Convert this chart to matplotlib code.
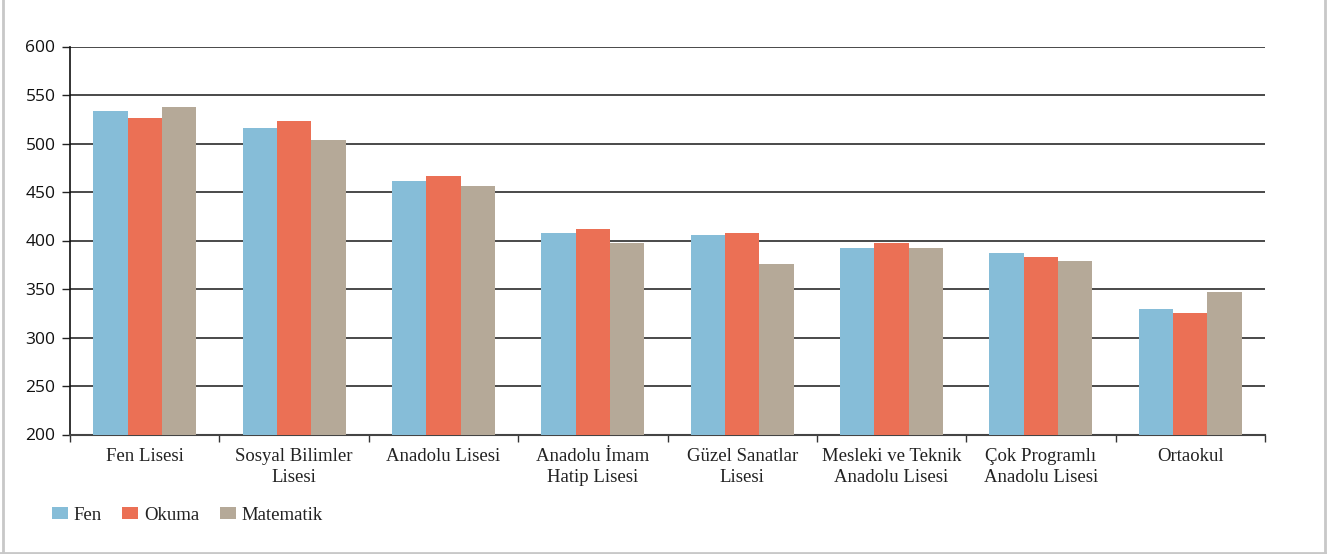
import matplotlib
matplotlib.use("Agg")
import matplotlib.pyplot as plt
import numpy as np
from matplotlib.lines import Line2D

categories = [
    "Fen Lisesi",
    "Sosyal Bilimler\nLisesi",
    "Anadolu Lisesi",
    "Anadolu İmam\nHatip Lisesi",
    "Güzel Sanatlar\nLisesi",
    "Mesleki ve Teknik\nAnadolu Lisesi",
    "Çok Programlı\nAnadolu Lisesi",
    "Ortaokul",
]
fen = [534, 516, 461, 408, 406, 392, 387, 329]
okuma = [526, 523, 466, 412, 408, 397, 383, 325]
matematik = [538, 504, 456, 397, 376, 392, 379, 347]
series_names = ["Fen", "Okuma", "Matematik"]
y_ticks = [200, 250, 300, 350, 400, 450, 500, 550, 600]

colors = ["#86BDD8", "#EB7055", "#B5A998"]

W, H = 1327, 554
fig = plt.figure(figsize=(W / 100, H / 100), dpi=100)
ax = fig.add_axes([70 / W, 1 - 434.5 / H, 1195 / W, 388 / H])

x = np.arange(len(categories))
bw = 0.23
for i, (vals, name, c) in enumerate(zip([fen, okuma, matematik], series_names, colors)):
    ax.bar(x + (i - 1) * bw, vals, width=bw, color=c, label=name, zorder=3, linewidth=0)

ax.set_ylim(200, 600)
ax.set_xlim(-0.5, len(categories) - 0.5)
ax.set_yticks(y_ticks)
ax.yaxis.grid(True, color="#2a2a2a", linewidth=1.2, zorder=0)
ax.set_axisbelow(True)

# group separators as major ticks, category names on minor ticks
ax.set_xticks(np.arange(-0.5, len(categories)), labels=[""] * (len(categories) + 1))
ax.set_xticks(x, labels=categories, minor=True)
ax.tick_params(axis="x", which="major", direction="out", length=5, width=1, color="#333333")
ax.tick_params(axis="x", which="minor", length=0, pad=10)
ax.tick_params(axis="y", direction="out", length=5.5, width=1, color="#222222", pad=5)

for lbl in ax.get_xticklabels(minor=True):
    lbl.set_fontfamily("Liberation Serif")
    lbl.set_fontsize(13.5)
    lbl.set_color("#222222")
    lbl.set_linespacing(1.3)
for lbl in ax.get_yticklabels():
    lbl.set_fontfamily("Open Sans")
    lbl.set_fontsize(12.5)
    lbl.set_color("#111111")

for s in ["top", "right"]:
    ax.spines[s].set_visible(False)
ax.spines["left"].set_color("#111111")
ax.spines["left"].set_linewidth(1.2)
ax.spines["bottom"].set_color("#444444")
ax.spines["bottom"].set_linewidth(1.5)

leg = fig.legend(
    loc="center left",
    bbox_to_anchor=(35 / W, 1 - 515 / H),
    ncol=3,
    frameon=False,
    handlelength=0.85,
    handleheight=0.64,
    handletextpad=0.3,
    columnspacing=1.1,
    prop={"family": "Liberation Serif", "size": 13.5},
)
for t in leg.get_texts():
    t.set_color("#222222")

# light frame around the figure
border = "#c8c8c8"
fig.add_artist(Line2D([2.5 / W, 2.5 / W], [0, 1], transform=fig.transFigure, color=border, lw=2))
fig.add_artist(Line2D([1324.5 / W, 1324.5 / W], [0, 1], transform=fig.transFigure, color=border, lw=2))
fig.add_artist(Line2D([0, 1], [1.5 / H, 1.5 / H], transform=fig.transFigure, color=border, lw=2))

fig.savefig("out.png", dpi=100, facecolor="white")
